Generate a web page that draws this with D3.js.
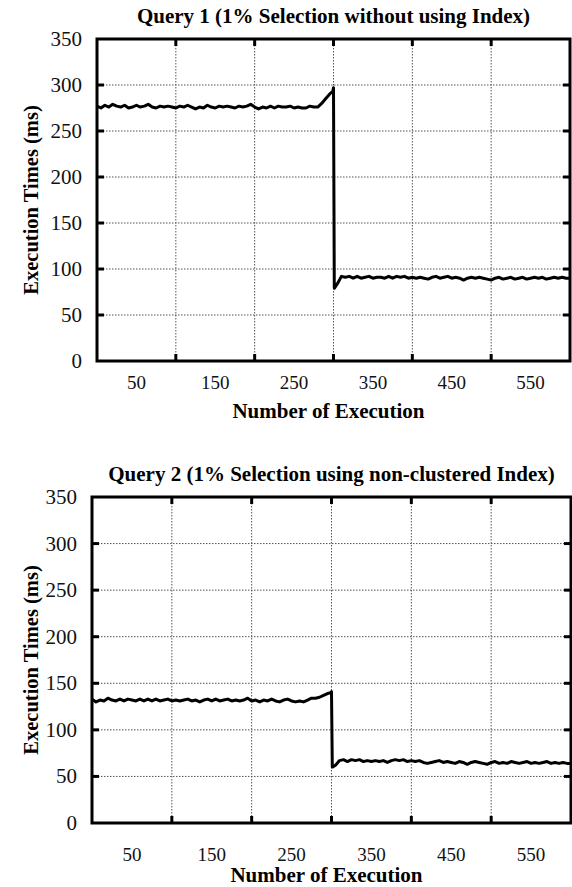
<!DOCTYPE html>
<html>
    <head>
        <meta charset="utf-8">
        <title>Query Execution Times</title>
        <script src='https://d3js.org/d3.v7.min.js'></script>
        <style>
            body { margin: 0; background: #fff; }
        </style>
    </head>
    <body>

        <svg width="572" height="887" font-family="'Liberation Serif', 'DejaVu Serif', serif"></svg>

        <script>
            // execution number of each sample (same for both queries)
            const runs = [
                0, 5, 10, 15, 20, 25, 30, 35, 40, 45,
                50, 55, 60, 65, 70, 75, 80, 85, 90, 95,
                100, 105, 110, 115, 120, 125, 130, 135, 140, 145,
                150, 155, 160, 165, 170, 175, 180, 185, 190, 195,
                200, 205, 210, 215, 220, 225, 230, 235, 240, 245,
                250, 255, 260, 265, 270, 275, 280, 285, 290, 295,
                299, 300, 301,
                305, 310, 315, 320, 325, 330, 335, 340, 345, 350,
                355, 360, 365, 370, 375, 380, 385, 390, 395, 400,
                405, 410, 415, 420, 425, 430, 435, 440, 445, 450,
                455, 460, 465, 470, 475, 480, 485, 490, 495, 500,
                505, 510, 515, 520, 525, 530, 535, 540, 545, 550,
                555, 560, 565, 570, 575, 580, 585, 590, 595, 600
            ];

            // Query 1 execution times (ms)
            const query1Times = [
                277, 275, 278, 276, 279, 277, 276, 278, 275, 276,
                278, 276, 277, 279, 276, 275, 277, 276, 277, 276,
                275, 277, 276, 278, 276, 274, 276, 275, 278, 276,
                275, 277, 276, 277, 276, 275, 277, 276, 277, 279,
                276, 274, 276, 275, 277, 275, 277, 276, 276, 277,
                275, 276, 275, 275, 277, 276, 276, 280, 285, 290,
                293, 297, 79,
                84, 92, 91, 92, 90, 92, 90, 91, 92, 90,
                91, 91, 90, 92, 90, 92, 91, 92, 90, 91,
                90, 91, 90, 89, 91, 92, 90, 91, 92, 90,
                91, 90, 88, 90, 91, 90, 91, 90, 89, 88,
                90, 91, 89, 90, 91, 89, 90, 91, 89, 90,
                91, 90, 91, 89, 90, 91, 90, 91, 90, 90
            ];

            // Query 2 execution times (ms)
            const query2Times = [
                133, 130, 132, 131, 134, 132, 131, 133, 131, 133,
                132, 131, 133, 131, 133, 131, 133, 131, 132, 133,
                131, 132, 131, 132, 133, 131, 132, 130, 132, 133,
                131, 133, 131, 132, 133, 131, 132, 131, 132, 134,
                131, 132, 130, 132, 131, 133, 131, 130, 132, 133,
                131, 130, 131, 130, 132, 134, 134, 135, 137, 139,
                140, 141, 60,
                62, 67, 68, 66, 68, 67, 68, 66, 67, 66,
                67, 66, 67, 65, 67, 68, 67, 68, 66, 67,
                66, 67, 65, 64, 65, 66, 67, 65, 66, 65,
                64, 66, 65, 63, 65, 66, 65, 64, 63, 65,
                66, 64, 65, 64, 66, 65, 64, 65, 66, 64,
                65, 64, 65, 66, 64, 65, 64, 65, 64, 64
            ];

            const xGrid = [100, 200, 300, 400, 500];
            const xLabels = [50, 150, 250, 350, 450, 550];
            const yGrid = [50, 100, 150, 200, 250, 300];
            const yLabels = [0, 50, 100, 150, 200, 250, 300, 350];

            const titles = [
                "Query 1 (1% Selection without using Index)",
                "Query 2 (1% Selection using non-clustered Index)"
            ];

            const svg = d3.select("svg");

            function drawChart(title, values, box) {
                const g = svg.append("g");

                const x = d3.scaleLinear().domain([0, 600]).range([box.left, box.right]);
                const y = d3.scaleLinear().domain([0, 350]).range([box.bottom, box.top]);

                // dotted grid
                g.selectAll(".vgrid").data(xGrid).enter().append("line")
                    .attr("x1", d => x(d)).attr("x2", d => x(d))
                    .attr("y1", box.top).attr("y2", box.bottom)
                    .attr("stroke", "#555").attr("stroke-width", 1)
                    .attr("stroke-dasharray", "1.5,1.5");
                g.selectAll(".hgrid").data(yGrid).enter().append("line")
                    .attr("y1", d => y(d)).attr("y2", d => y(d))
                    .attr("x1", box.left).attr("x2", box.right)
                    .attr("stroke", "#555").attr("stroke-width", 1)
                    .attr("stroke-dasharray", "1.5,1.5");

                // inward ticks on all four sides
                const tick = 7;
                g.selectAll(".tb").data(xGrid).enter().append("line")
                    .attr("x1", d => x(d)).attr("x2", d => x(d))
                    .attr("y1", box.bottom).attr("y2", box.bottom - tick)
                    .attr("stroke", "#000").attr("stroke-width", 3);
                g.selectAll(".tt").data(xGrid).enter().append("line")
                    .attr("x1", d => x(d)).attr("x2", d => x(d))
                    .attr("y1", box.top).attr("y2", box.top + tick)
                    .attr("stroke", "#000").attr("stroke-width", 3);
                g.selectAll(".tl").data(yGrid).enter().append("line")
                    .attr("y1", d => y(d)).attr("y2", d => y(d))
                    .attr("x1", box.left).attr("x2", box.left + tick)
                    .attr("stroke", "#000").attr("stroke-width", 3);
                g.selectAll(".tr").data(yGrid).enter().append("line")
                    .attr("y1", d => y(d)).attr("y2", d => y(d))
                    .attr("x1", box.right).attr("x2", box.right - tick)
                    .attr("stroke", "#000").attr("stroke-width", 3);

                // the data line
                const line = d3.line()
                    .x((d, i) => x(runs[i]))
                    .y(d => y(d));
                g.append("path")
                    .datum(values)
                    .attr("d", line)
                    .attr("fill", "none")
                    .attr("stroke", "#000")
                    .attr("stroke-width", 3)
                    .attr("stroke-linejoin", "round");

                // frame
                g.append("rect")
                    .attr("x", box.left).attr("y", box.top)
                    .attr("width", box.right - box.left)
                    .attr("height", box.bottom - box.top)
                    .attr("fill", "none")
                    .attr("stroke", "#000")
                    .attr("stroke-width", 3);

                // tick labels
                g.selectAll(".yl").data(yLabels).enter().append("text")
                    .attr("x", box.left - 15)
                    .attr("y", d => y(d))
                    .attr("dy", "0.33em")
                    .attr("text-anchor", "end")
                    .attr("fill", "#111")
                    .style("font-size", "21px")
                    .text(d => d);
                g.selectAll(".xl").data(xLabels).enter().append("text")
                    .attr("x", d => x(d))
                    .attr("y", box.bottom + box.labelGap)
                    .attr("text-anchor", "middle")
                    .attr("fill", "#111")
                    .style("font-size", "19px")
                    .text(d => d);

                // titles
                const cx = (box.left + box.right) / 2;
                g.append("text")
                    .attr("x", cx).attr("y", box.top - 16)
                    .attr("text-anchor", "middle")
                    .style("font-size", "21px").style("font-weight", "bold")
                    .text(title);
                g.append("text")
                    .attr("x", cx - 5).attr("y", box.bottom + box.titleGap)
                    .attr("text-anchor", "middle")
                    .style("font-size", "21px").style("font-weight", "bold")
                    .text("Number of Execution");
                g.append("text")
                    .attr("transform", "translate(38," + (box.top + box.bottom) / 2 + ") rotate(-90)")
                    .attr("text-anchor", "middle")
                    .style("font-size", "20.5px").style("font-weight", "bold")
                    .text("Execution Times (ms)");
            }

            drawChart(titles[0], query1Times, {left: 97, right: 570, top: 39, bottom: 361, labelGap: 28, titleGap: 57});
            drawChart(titles[1], query2Times, {left: 92, right: 571, top: 497, bottom: 823, labelGap: 38, titleGap: 59});
        </script>
    </body>
</html>
